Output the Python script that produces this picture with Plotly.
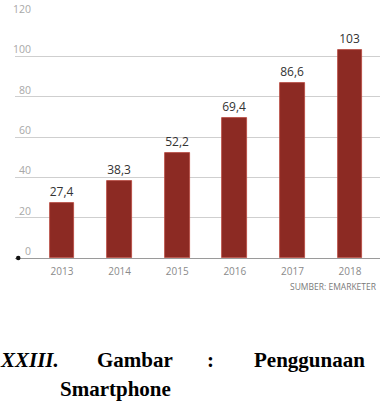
import plotly.graph_objects as go

years = ["2013", "2014", "2015", "2016", "2017", "2018"]
values = [27.4, 38.3, 52.2, 69.4, 86.6, 103]
value_labels = ["27,4", "38,3", "52,2", "69,4", "86,6", "103"]
y_ticks = [0, 20, 40, 60, 80, 100, 120]
source_text = "SUMBER: EMARKETER"

W, H = 386, 402
L, R, T, B = 15, 6, 16, 144
plot_h = H - T - B
plot_w = W - L - R


def py(p):
    return (H - B - p) / plot_h


def px(p):
    return (p - L) / plot_w


fig = go.Figure()
fig.add_trace(go.Bar(
    x=list(range(len(years))), y=values, width=0.43,
    marker=dict(color="#8c2a23", line=dict(color="#b8463c", width=0.8)),
    text=value_labels, textposition="outside", cliponaxis=False,
    textfont=dict(family="Open Sans", size=12, color="#333333"),
    hoverinfo="skip",
))

annotations = []
for t in y_ticks:
    annotations.append(dict(
        x=px(33), xref="paper", y=t, yref="y", text=str(t), showarrow=False,
        xanchor="right", yanchor="bottom", yshift=-2,
        font=dict(family="Open Sans", size=10.5, color="#a8a8a8"),
    ))
annotations.append(dict(
    x=px(379), xref="paper", y=py(286), yref="paper", text=source_text,
    showarrow=False, xanchor="right", yanchor="middle",
    font=dict(family="Open Sans", size=8.5, color="#7a7a7a"),
))
cap_font = dict(family="Liberation Serif", size=21, color="#000000")
annotations += [
    dict(x=px(61), xref="paper", y=py(360), yref="paper", text="<b><i>XXIII.</i></b>",
         showarrow=False, xanchor="right", yanchor="middle", font=cap_font),
    dict(x=px(95), xref="paper", y=py(360), yref="paper", text="<b>Gambar</b>",
         showarrow=False, xanchor="left", yanchor="middle", font=cap_font),
    dict(x=px(210), xref="paper", y=py(360), yref="paper", text="<b>:</b>",
         showarrow=False, xanchor="center", yanchor="middle", font=cap_font),
    dict(x=px(252), xref="paper", y=py(360), yref="paper", text="<b>Penggunaan</b>",
         showarrow=False, xanchor="left", yanchor="middle", font=cap_font),
    dict(x=px(58), xref="paper", y=py(389), yref="paper", text="<b>Smartphone</b>",
         showarrow=False, xanchor="left", yanchor="middle", font=cap_font),
]

fig.update_layout(
    width=W, height=H, margin=dict(l=L, r=R, t=T, b=B),
    paper_bgcolor="white", plot_bgcolor="white", showlegend=False,
    bargap=0,
    xaxis=dict(
        range=[-0.816, 5.52], tickmode="array", tickvals=list(range(len(years))),
        ticktext=years, showgrid=False, zeroline=False, showline=False,
        ticks="", ticklabelstandoff=6,
        tickfont=dict(family="Open Sans", size=10, color="#8a8a8a"),
    ),
    yaxis=dict(
        range=[0, 120], tickvals=y_ticks, showticklabels=False,
        showgrid=True, gridcolor="#cfcfcf", gridwidth=1,
        zeroline=True, zerolinecolor="#9a9a9a", zerolinewidth=1,
        showline=False,
    ),
    annotations=annotations,
    shapes=[dict(type="circle", xref="paper", yref="paper",
                 x0=px(16), x1=px(20.5), y0=py(260.2), y1=py(255.8),
                 fillcolor="#111111", line=dict(width=0))],
)

fig.write_html("out.html")
